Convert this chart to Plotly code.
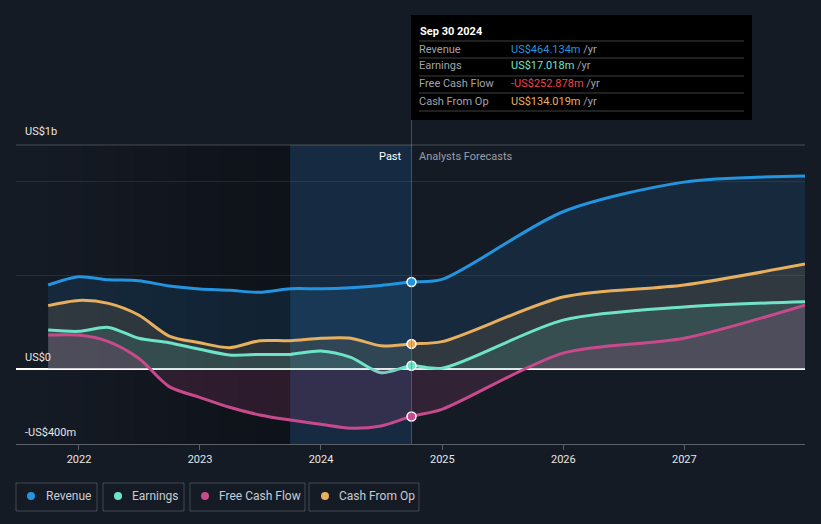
import plotly.graph_objects as go
import datetime as dt

# ---------------- data (US$ millions) ----------------
past_dates = ["2021-09-30", "2021-12-31", "2022-03-31", "2022-06-30", "2022-09-30",
              "2022-12-31", "2023-03-31", "2023-06-30", "2023-09-30", "2023-12-31",
              "2024-03-31", "2024-06-30", "2024-09-30"]
forecast_dates = ["2024-12-31", "2025-12-31", "2026-12-31", "2027-12-31"]

revenue_past = [448, 492, 476, 471, 443, 427, 420, 409, 428, 428, 434, 446, 464.134]
revenue_fc = [478, 839, 997, 1029]

earnings_past = [208, 201, 222, 164, 140, 105, 75, 78, 78, 96, 62, -20, 17.018]
earnings_fc = [4, 261, 331, 359]

fcf_past = [181, 181, 146, 57, -94, -151, -204, -245, -272, -295, -316, -304, -252.878]
fcf_fc = [-215, 85, 164, 341]

cfo_past = [338, 366, 350, 288, 176, 140, 114, 151, 151, 164, 164, 124, 134.019]
cfo_fc = [146, 384, 448, 560]

tick_years = ["2022", "2023", "2024", "2025", "2026", "2027"]
series_names = ["Revenue", "Earnings", "Free Cash Flow", "Cash From Op"]
tooltip_date = "Sep 30 2024"
tooltip_values = ["US$464.134m", "US$17.018m", "-US$252.878m", "US$134.019m"]
y_labels = ["US$1b", "US$0", "-US$400m"]

# ---------------- style ----------------
BG = "#151b25"
C_REV = "#2394df"
C_EARN = "#6fe3c8"
C_FCF = "#c94a8c"
C_CFO = "#e8b05e"
VAL_COLORS = [C_REV, C_EARN, "#f0434a", C_CFO]
FONT = "Roboto, 'Noto Sans', sans-serif"

W, H = 821, 524
L, R, T, B = 16, 805, 145, 444


def px(x):
    return (x - L) / (R - L)


def py(y):
    return (B - y) / (B - T)


dates = past_dates + forecast_dates
fig = go.Figure()

series = [
    (series_names[0], revenue_past + revenue_fc, C_REV, "rgba(35,148,223,0.13)"),
    (series_names[3], cfo_past + cfo_fc, C_CFO, "rgba(232,176,94,0.12)"),
    (series_names[1], earnings_past + earnings_fc, C_EARN, "rgba(111,227,200,0.13)"),
    (series_names[2], fcf_past + fcf_fc, C_FCF, "rgba(201,74,140,0.16)"),
]
for name, vals, col, fillc in series:
    fig.add_trace(go.Scatter(
        x=dates, y=vals, name=name, mode="lines",
        line=dict(color=col, width=3, shape="spline", smoothing=0.8),
        fill="tozeroy", fillcolor=fillc, hoverinfo="skip", showlegend=False,
    ))

# highlighted points at Sep 30 2024
for vals, col in [(revenue_past, C_REV), (cfo_past, C_CFO), (earnings_past, C_EARN), (fcf_past, C_FCF)]:
    fig.add_trace(go.Scatter(
        x=[past_dates[-1]], y=[vals[-1]], mode="markers",
        marker=dict(color=col, size=9, line=dict(color="white", width=1.5)),
        hoverinfo="skip", showlegend=False,
    ))

shapes = []
# darkening gradient over the older past
n = 14
d0 = dt.date(2021, 9, 30)
d1 = dt.date(2023, 9, 30)
span = (d1 - d0).days
for i in range(n):
    a = d0 + dt.timedelta(days=span * i / n)
    b = d0 + dt.timedelta(days=span * (i + 1) / n)
    shapes.append(dict(type="rect", xref="x", yref="paper", x0=a.isoformat(), x1=b.isoformat(),
                       y0=0, y1=1, fillcolor="rgba(0,0,0,%.3f)" % (0.32 * (i + 1) / n),
                       line=dict(width=0), layer="below"))
# last-year "past" band
shapes.append(dict(type="rect", xref="x", yref="paper", x0="2023-09-30", x1="2024-09-30",
                   y0=0, y1=1, fillcolor="rgba(30,130,210,0.16)", line=dict(width=0), layer="below"))
# vertical marker line
shapes.append(dict(type="line", xref="x", yref="paper", x0="2024-09-30", x1="2024-09-30",
                   y0=0, y1=py(119), line=dict(color="rgba(90,130,170,0.55)", width=1)))
# top border line
shapes.append(dict(type="line", xref="paper", yref="paper", x0=0, x1=1, y0=1, y1=1,
                   line=dict(color="rgba(255,255,255,0.22)", width=1)))

# tooltip box
shapes.append(dict(type="rect", xref="paper", yref="paper", x0=px(411), x1=px(752),
                   y0=py(120), y1=py(15), fillcolor="#000000", line=dict(width=0)))
for yy in [41, 58, 76, 93, 111]:
    shapes.append(dict(type="line", xref="paper", yref="paper", x0=px(419), x1=px(744),
                       y0=py(yy), y1=py(yy), line=dict(color="rgba(255,255,255,0.25)", width=1)))

annotations = []
annotations.append(dict(xref="paper", yref="paper", x=px(418), y=py(31), text="<b>" + tooltip_date + "</b>",
                        showarrow=False, xanchor="left", yanchor="middle",
                        font=dict(family=FONT, size=11, color="#ffffff")))
for i, (nm, val, vc) in enumerate(zip(series_names, tooltip_values, VAL_COLORS)):
    yy = [49, 66, 84, 101][i]
    annotations.append(dict(xref="paper", yref="paper", x=px(417), y=py(yy), text=nm,
                            showarrow=False, xanchor="left", yanchor="middle",
                            font=dict(family=FONT, size=11, color="#a0a4aa")))
    annotations.append(dict(xref="paper", yref="paper", x=px(509), y=py(yy),
                            text='<span style="color:%s">%s</span> <span style="color:#a0a4aa">/yr</span>' % (vc, val),
                            showarrow=False, xanchor="left", yanchor="middle",
                            font=dict(family=FONT, size=11, color="#a0a4aa")))

# Past / Analysts Forecasts
annotations.append(dict(xref="paper", yref="paper", x=px(404), y=py(156), text="Past",
                        showarrow=False, xanchor="right", yanchor="middle",
                        font=dict(family=FONT, size=11, color="#ffffff")))
annotations.append(dict(xref="paper", yref="paper", x=px(417), y=py(156), text="Analysts Forecasts",
                        showarrow=False, xanchor="left", yanchor="middle",
                        font=dict(family=FONT, size=11, color="#9a9ea5")))

# y labels
for txt, yy in zip(y_labels, [131, 357, 432]):
    annotations.append(dict(xref="paper", yref="paper", x=px(23), y=py(yy), text=txt,
                            showarrow=False, xanchor="left", yanchor="middle",
                            font=dict(family=FONT, size=11, color="#e6e6e6")))

# legend boxes
legend_boxes = [(16, 97, 31, 44), (103, 184, 118, 130), (190, 305, 205, 217), (309, 419, 325, 337)]
legend_cols = [C_REV, C_EARN, C_FCF, C_CFO]
for (x0, x1, dx, tx), nm, col in zip(legend_boxes, series_names, legend_cols):
    shapes.append(dict(type="rect", xref="paper", yref="paper", x0=px(x0), x1=px(x1),
                       y0=py(511), y1=py(483), fillcolor="rgba(0,0,0,0)",
                       line=dict(color="rgba(255,255,255,0.2)", width=1)))
    shapes.append(dict(type="circle", xref="paper", yref="paper", x0=px(dx - 4), x1=px(dx + 4),
                       y0=py(500), y1=py(492), fillcolor=col, line=dict(width=0)))
    annotations.append(dict(xref="paper", yref="paper", x=px(tx), y=py(496), text=nm,
                            showarrow=False, xanchor="left", yanchor="middle",
                            font=dict(family=FONT, size=12, color="#c8ccd2")))

fig.update_layout(
    width=W, height=H,
    margin=dict(l=L, r=W - R, t=T, b=H - B),
    paper_bgcolor=BG, plot_bgcolor=BG,
    shapes=shapes, annotations=annotations,
    showlegend=False,
    xaxis=dict(
        type="date", range=["2021-06-25", "2027-12-31"],
        tickvals=[y + "-01-01" for y in tick_years], ticktext=tick_years,
        showgrid=False, zeroline=False,
        showline=True, linecolor="rgba(255,255,255,0.3)", linewidth=1,
        ticks="outside", ticklen=5, tickcolor="rgba(255,255,255,0.3)",
        tickfont=dict(family=FONT, size=11, color="#e6e6e6"),
    ),
    yaxis=dict(
        range=[-400, 1195], tickvals=[500, 1000], showticklabels=False,
        showgrid=True, gridcolor="rgba(255,255,255,0.08)", gridwidth=1,
        zeroline=True, zerolinecolor="#ffffff", zerolinewidth=1.5,
        showline=False,
    ),
)

fig.write_html(
    "out.html",
    config={"displayModeBar": False},
    post_script="document.body.style.margin='0';document.body.style.background='%s';" % BG,
)
